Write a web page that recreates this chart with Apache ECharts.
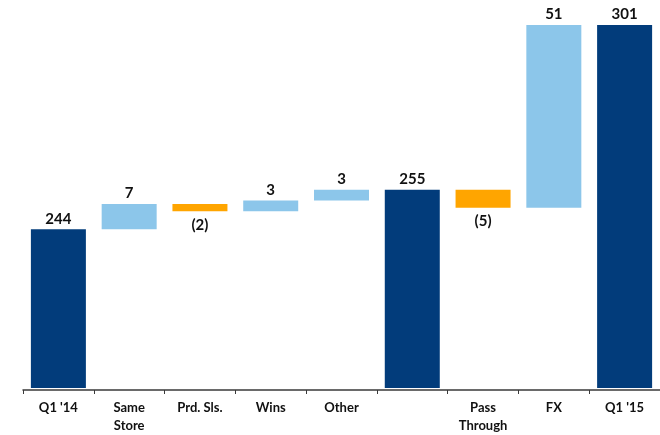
<!DOCTYPE html>
<html>
<head>
<meta charset="utf-8">
<script src="https://cdn.jsdelivr.net/npm/echarts@6/dist/echarts.min.js"></script>
<style>
  html, body { margin: 0; padding: 0; background: #fff; }
  #chart { width: 660px; height: 435px; }
</style>
</head>
<body>
<div id="chart"></div>
<script>
// Revenue bridge Q1 '14 -> Q1 '15
const categories = ["Q1 '14", "Same\nStore", "Prd. Sls.", "Wins", "Other", "", "Pass\nThrough", "FX", "Q1 '15"];
const values = [244, 7, -2, 3, 3, 255, -5, 51, 301];
const isTotal = [true, false, false, false, false, true, false, false, true];

const NAVY = '#023c7b';
const LIGHT = '#8cc6ea';
const ORANGE = '#ffa500';

// Build the invisible offset and the visible segment for each step of the bridge
const baseData = [];
const barData = [];
let running = 0;
values.forEach((v, i) => {
  if (isTotal[i]) {
    running = v;
    baseData.push(0);
    barData.push({
      value: v,
      itemStyle: { color: NAVY },
      label: { position: 'top', distance: 3, formatter: String(v) }
    });
  } else {
    const start = running;
    const end = running + v;
    running = end;
    baseData.push(Math.min(start, end));
    barData.push({
      value: Math.abs(v),
      itemStyle: { color: v >= 0 ? LIGHT : ORANGE },
      label: {
        position: v >= 0 ? 'top' : 'bottom',
        distance: v >= 0 ? 3 : 6,
        formatter: v >= 0 ? String(v) : '(' + Math.abs(v) + ')'
      }
    });
  }
});

const chart = echarts.init(document.getElementById('chart'), null, { renderer: 'canvas' });
chart.setOption({
  animation: false,
  grid: { left: 23, top: 12, width: 643, height: 376 },
  xAxis: {
    type: 'category',
    data: categories,
    offset: 2,
    axisLine: { lineStyle: { color: '#3a3a3a', width: 1.5 } },
    axisTick: { show: true, length: 4, lineStyle: { color: '#3a3a3a' } },
    axisLabel: {
      interval: 0,
      margin: 9,
      color: '#111',
      fontFamily: 'Lato',
      fontWeight: 'bold',
      fontSize: 13,
      lineHeight: 18
    }
  },
  yAxis: {
    type: 'value',
    min: 199.7,
    max: 304.6,
    show: false,
    splitLine: { show: false }
  },
  series: [
    {
      type: 'bar',
      stack: 'bridge',
      data: baseData,
      barWidth: 55,
      itemStyle: { color: 'transparent' },
      silent: true,
      clip: true
    },
    {
      type: 'bar',
      stack: 'bridge',
      data: barData,
      barWidth: 55,
      clip: true,
      label: {
        show: true,
        color: '#111',
        fontFamily: 'Lato',
        fontWeight: 'bold',
        fontSize: 15
      }
    }
  ]
});
</script>
</body>
</html>
